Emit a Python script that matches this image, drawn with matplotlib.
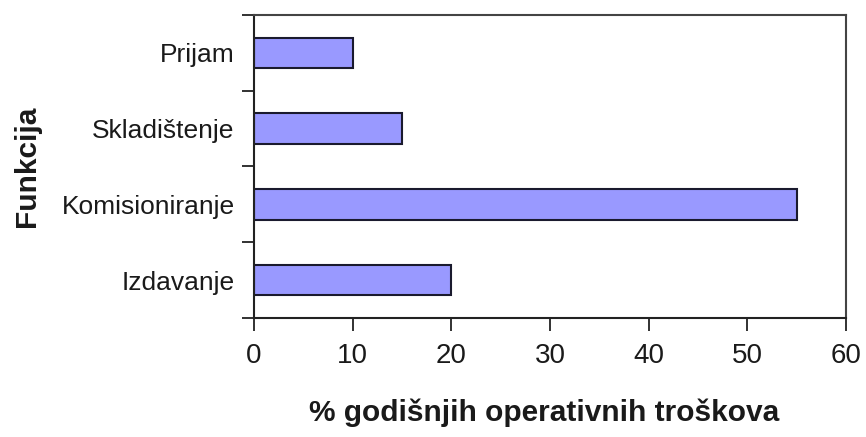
import numpy as np
import matplotlib
matplotlib.use('Agg')
import matplotlib.pyplot as plt
from matplotlib.ticker import FixedLocator, NullFormatter

plt.rcParams['font.family'] = ['Liberation Sans', 'DejaVu Sans']

# podaci
funkcije = ['Izdavanje', 'Komisioniranje', 'Skladištenje', 'Prijam']
troskovi = [20, 55, 15, 10]
x_ticks = [0, 10, 20, 30, 40, 50, 60]

fig = plt.figure(figsize=(8.66, 4.37), dpi=100)
ax = fig.add_axes([0.2933, 0.2723, 0.6836, 0.6934])

y = np.arange(len(funkcije))
ax.barh(y, troskovi, height=0.4, color='#9999FF', edgecolor='#1a1a2e', linewidth=1.5)

ax.set_xlim(0, 60)
ax.set_ylim(-0.5, len(funkcije) - 0.5)
ax.set_xticks(x_ticks)
ax.set_xticklabels([str(t) for t in x_ticks], fontsize=20, color='#1a1a1a')

# oznake kategorija bez crtica, crtice na granicama
ax.set_yticks(y)
ax.set_yticklabels(funkcije, fontsize=19, color='#1a1a1a')
ax.yaxis.set_minor_locator(FixedLocator(np.arange(-0.5, len(funkcije), 1.0)))
ax.yaxis.set_minor_formatter(NullFormatter())
ax.tick_params(axis='y', which='major', length=0, pad=14)
ax.tick_params(axis='y', which='minor', length=9, width=1.3, color='#222222')
ax.tick_params(axis='x', length=9, width=1.3, color='#222222', pad=9)

for s in ['left', 'bottom']:
    ax.spines[s].set_linewidth(1.5)
    ax.spines[s].set_color('#222222')
for s in ['top', 'right']:
    ax.spines[s].set_linewidth(1.5)
    ax.spines[s].set_color('#444444')

ax.set_xlabel('% godišnjih operativnih troškova', fontsize=21.5, fontweight='bold',
              color='#1a1a1a')
ax.xaxis.set_label_coords(0.49, -0.265)
ax.set_ylabel('Funkcija', fontsize=21.5, fontweight='bold', color='#1a1a1a')
ax.yaxis.set_label_coords(-0.36, 0.5)

fig.savefig('out.png', dpi=100)
